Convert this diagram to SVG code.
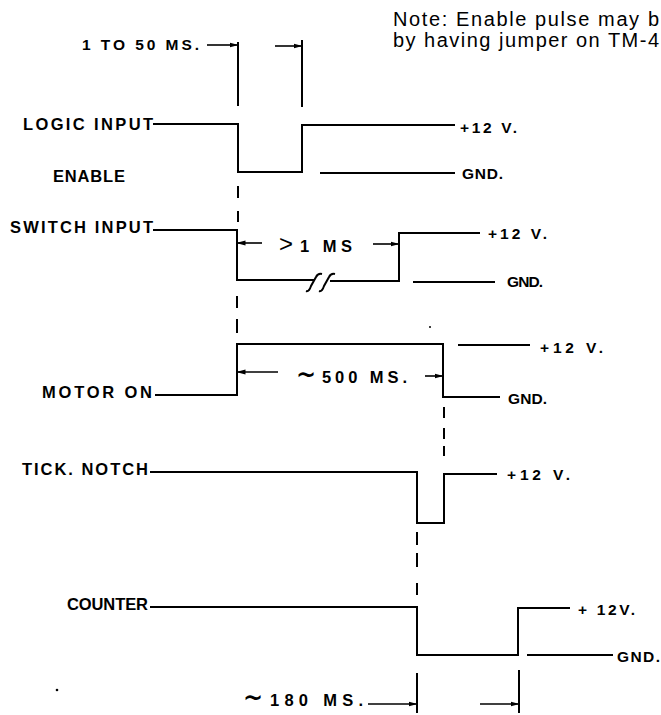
<svg xmlns="http://www.w3.org/2000/svg" width="661" height="715" viewBox="0 0 661 715">
<defs>
<marker id="ah" markerWidth="9" markerHeight="6" refX="8.5" refY="3" orient="auto" markerUnits="userSpaceOnUse">
<path d="M0,0.5 L9,3 L0,5.5 z" fill="#000"/>
</marker>
</defs>
<style>
.sig{fill:none;stroke:#000;stroke-width:2;stroke-linejoin:miter}
.ref{fill:none;stroke:#000;stroke-width:2}
.dash{fill:none;stroke:#000;stroke-width:2}
.arr{fill:none;stroke:#000;stroke-width:1.6;marker-end:url(#ah)}
.lbl{font-family:"Liberation Sans",Arial,sans-serif;font-weight:bold;font-size:16.5px;fill:#000}
.lv{font-family:"Liberation Sans",Arial,sans-serif;font-weight:bold;font-size:15.5px;fill:#000}
.note{font-family:"Liberation Sans",Arial,sans-serif;font-size:20px;fill:#000}
.sym{font-family:"DejaVu Sans",sans-serif;font-size:24px;font-weight:bold}
</style>
<rect width="661" height="715" fill="#fff"/>

<g id="note">
<text class="note" x="393" y="26" textLength="266" lengthAdjust="spacing">Note: Enable pulse may b</text>
<text class="note" x="393" y="47" textLength="266" lengthAdjust="spacing">by having jumper on TM-4</text>
</g>

<g id="pulse-width">
<text class="lv" x="82" y="50" textLength="117" lengthAdjust="spacing">1 TO 50  MS.</text>
<line class="ref" x1="238" y1="42" x2="238" y2="106"/>
<line class="ref" x1="302" y1="40" x2="302" y2="107"/>
</g>

<g id="logic-input">
<text class="lbl" x="23" y="130" textLength="130" lengthAdjust="spacing">LOGIC  INPUT</text>
<text class="lbl" x="53" y="182" textLength="72" lengthAdjust="spacing">ENABLE</text>
<path class="sig" d="M153,124 H238 V172 H302 V125 H455"/>
<path class="sig" d="M320,173 H455"/>
<text class="lv" x="460" y="133" textLength="57" lengthAdjust="spacing">+12 V.</text>
<text class="lv" x="462" y="179" textLength="41" lengthAdjust="spacing">GND.</text>
</g>

<g id="switch-input">
<text class="lbl" x="10" y="233" textLength="143" lengthAdjust="spacing">SWITCH  INPUT</text>
<path class="sig" d="M153,230 H237 V280 H314"/>
<path class="sig" d="M330,281 H399 V233 H480"/>
<path class="sig" d="M306,291 Q309,292 311,286 L316,277 Q318,273 322,274"/>
<path class="sig" d="M319,291 Q322,292 324,286 L329,277 Q331,273 335,274"/>
<path class="sig" d="M413,282 H495"/>
<text class="lv" x="488" y="239" textLength="59" lengthAdjust="spacing">+12 V.</text>
<text class="lv" x="507" y="287" textLength="36" lengthAdjust="spacing">GND.</text>
<text class="lbl" y="252"><tspan x="279" font-size="24" font-weight="normal">&gt;</tspan><tspan x="300" textLength="52" lengthAdjust="spacing">1  MS</tspan></text>
</g>

<g id="motor-on">
<text class="lbl" x="42" y="398" textLength="110" lengthAdjust="spacing">MOTOR  ON</text>
<path class="sig" d="M155,395 H237 V344 H443 V397 H500"/>
<path class="sig" d="M458,345 H530"/>
<text class="lv" x="540" y="353" textLength="63" lengthAdjust="spacing">+12 V.</text>
<text class="lv" x="508" y="404" textLength="39" lengthAdjust="spacing">GND.</text>
<text class="lbl" y="383"><tspan class="sym" x="296">~</tspan><tspan x="322" textLength="85" lengthAdjust="spacing">500 MS.</tspan></text>
</g>

<g id="tick-notch">
<text class="lbl" x="22" y="475" textLength="126" lengthAdjust="spacing">TICK.  NOTCH</text>
<path class="sig" d="M150,472 H417 V523 H444 V474 H497"/>
<text class="lv" x="507" y="480" textLength="63" lengthAdjust="spacing">+12 V.</text>
</g>

<g id="counter">
<text class="lbl" x="67" y="610" textLength="81" lengthAdjust="spacing">COUNTER</text>
<path class="sig" d="M150,607 H417 V655 H518 V608 H570"/>
<path class="sig" d="M527,655 H613"/>
<text class="lv" x="578" y="615" textLength="57" lengthAdjust="spacing">+ 12V.</text>
<text class="lv" x="617" y="662" textLength="43" lengthAdjust="spacing">GND.</text>
<text class="lbl" y="706"><tspan class="sym" x="243">~</tspan><tspan x="270" textLength="93" lengthAdjust="spacing">180 MS.</tspan></text>
<line class="ref" x1="417" y1="673" x2="417" y2="713"/>
<line class="ref" x1="519" y1="670" x2="519" y2="713"/>
</g>

<g id="connectors">
<line class="arr" x1="207" y1="45" x2="238" y2="45"/>
<line class="arr" x1="275" y1="46" x2="302" y2="46"/>
<line class="arr" x1="262" y1="243" x2="237" y2="243"/>
<line class="arr" x1="373" y1="244" x2="399" y2="244"/>
<line class="arr" x1="278" y1="372" x2="237" y2="372"/>
<line class="arr" x1="425" y1="376" x2="443" y2="376"/>
<line class="arr" x1="368" y1="704" x2="417" y2="704"/>
<line class="arr" x1="480" y1="704" x2="519" y2="704"/>
<path class="dash" d="M238,186 V198 M238,211 V222 M237,296 V308 M237,319 V333"/>
<path class="dash" d="M444,407 V418 M444,428 V439 M444,446 V456"/>
<path class="dash" d="M417,532 V545 M417,553 V567 M417,583 V595"/>
</g>

<g id="specks">
<circle cx="430" cy="327" r="1" fill="#000"/>
<circle cx="57" cy="690" r="1.3" fill="#000"/>
</g>
</svg>
